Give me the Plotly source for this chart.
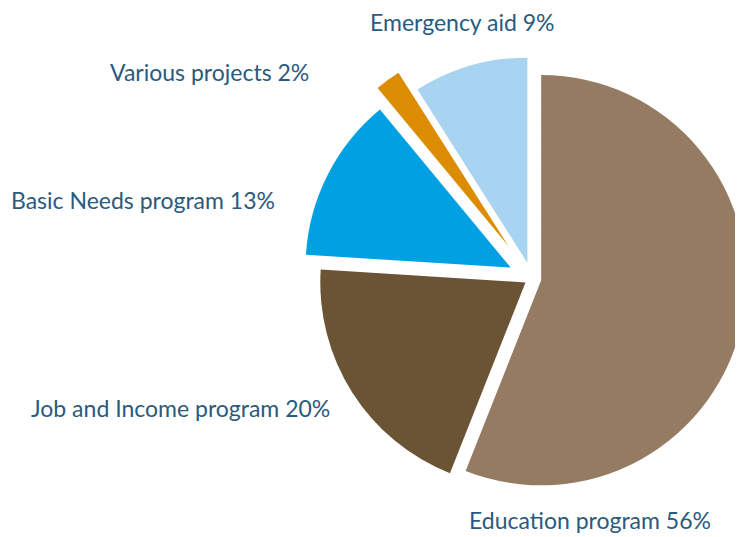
import plotly.graph_objects as go

labels = ["Education program", "Job and Income program", "Basic Needs program",
          "Various projects", "Emergency aid"]
values = [56, 20, 13, 2, 9]
pulls = [0.046, 0.037, 0.116, 0.195, 0.079]
colors = ["#957b62", "#6b5433", "#00a0e3", "#dc8c00", "#a8d4f2"]

W, H = 770, 537
OFF = 8  # page body margin

def px(x):
    return (x - OFF) / W

def py(y):
    return 1 - (y - OFF) / H

# label anchor positions (reference pixel coords, left edge of text)
label_pos = [
    (px(467), py(520)),
    (px(29), py(408)),
    (px(9), py(200)),
    (px(108), py(72)),
    (px(368), py(22)),
]

fig = go.Figure(go.Pie(
    labels=labels,
    values=values,
    sort=False,
    direction="clockwise",
    rotation=0,
    pull=pulls,
    marker=dict(colors=colors, line=dict(width=0)),
    textinfo="none",
    hoverinfo="label+percent",
    showlegend=False,
    domain=dict(x=[px(286.7), px(777.1)], y=[py(523.6), py(33.2)]),
))

for lab, val, (x, y) in zip(labels, values, label_pos):
    fig.add_annotation(
        x=x, y=y, xref="paper", yref="paper",
        text=f"{lab} {val}%", showarrow=False,
        xanchor="left", yanchor="middle",
        font=dict(family="Lato", size=23, color="#2a5a7d"),
    )

fig.update_layout(
    width=W, height=H, autosize=False,
    margin=dict(l=0, r=0, t=0, b=0),
    paper_bgcolor="white", plot_bgcolor="white",
)

fig.write_html("out.html")
